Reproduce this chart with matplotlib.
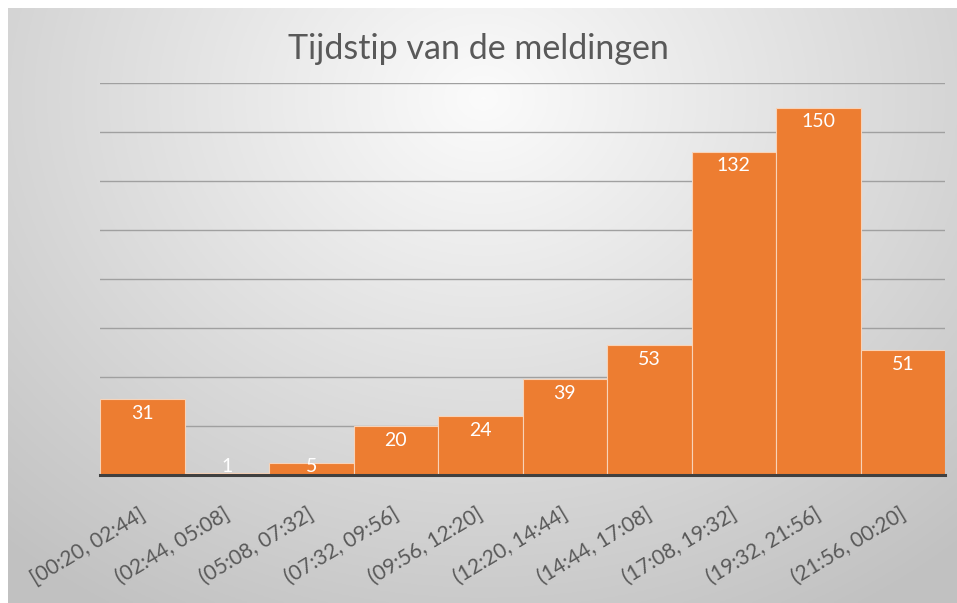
import numpy as np
import matplotlib
matplotlib.use("Agg")
import matplotlib.pyplot as plt
import matplotlib.transforms as mtransforms

categories = ["[00:20, 02:44]", "(02:44, 05:08]", "(05:08, 07:32]", "(07:32, 09:56]",
              "(09:56, 12:20]", "(12:20, 14:44]", "(14:44, 17:08]", "(17:08, 19:32]",
              "(19:32, 21:56]", "(21:56, 00:20]"]
counts = [31, 1, 5, 20, 24, 39, 53, 132, 150, 51]
title = "Tijdstip van de meldingen"

W, H = 957, 603
fig = plt.figure(figsize=(W / 100, H / 100), dpi=100)
fig.patch.set_facecolor("white")

# background radial gradient
bg = fig.add_axes([8 / W, 0, (W - 8) / W, (H - 8) / H])
ny, nx = 300, 480
yy, xx = np.mgrid[0:ny, 0:nx]
cx, cy = nx * 0.5, ny * 0.15
r = np.sqrt(((xx - cx) / nx) ** 2 + ((yy - cy) / ny * 0.75) ** 2)
val = 0.985 - 0.30 * r
val = np.clip(val, 0.76, 1.0)
bg.imshow(np.dstack([val, val, val]), aspect="auto", extent=[0, 1, 0, 1], origin="upper")
bg.set_axis_off()

ax = fig.add_axes([100 / W, (H - 475) / H, 845 / W, (475 - 83) / H])
ax.patch.set_alpha(0)
x = np.arange(len(categories))
ax.bar(x, counts, width=1.0, color="#ED7D31", edgecolor="#F8D3B8", linewidth=0.8, zorder=3)
ax.set_xlim(-0.5, len(categories) - 0.5)
ax.set_ylim(0, 160)
ax.set_yticks(np.arange(0, 161, 20))
ax.yaxis.grid(True, color="#a0a0a0", linewidth=1.0, zorder=0)
ax.tick_params(axis="y", left=False, labelleft=False)
for s in ["top", "right", "left"]:
    ax.spines[s].set_visible(False)
ax.spines["bottom"].set_color("#404040")
ax.spines["bottom"].set_linewidth(2.2)
ax.spines["bottom"].set_zorder(4)
ax.set_xticks(x)
ax.set_xticklabels(categories, rotation=31, ha="right", va="top", rotation_mode="anchor",
                   fontsize=15, color="#595959", family="Lato")
ax.tick_params(axis="x", length=0, pad=21)
offset = mtransforms.ScaledTranslation(-4 / 100, 0, fig.dpi_scale_trans)
for lbl in ax.get_xticklabels():
    lbl.set_transform(lbl.get_transform() + offset)

for xi, v in zip(x, counts):
    yv = max(v - 5.8, 3.4)
    ax.text(xi, yv, str(v), ha="center", va="center", color="white", fontsize=14,
            family="Lato", zorder=5)

fig.text(0.5, (H - 49) / H, title, ha="center", va="center", fontsize=24.5,
         color="#595959", family="Lato")

fig.savefig("out.png", dpi=100)
